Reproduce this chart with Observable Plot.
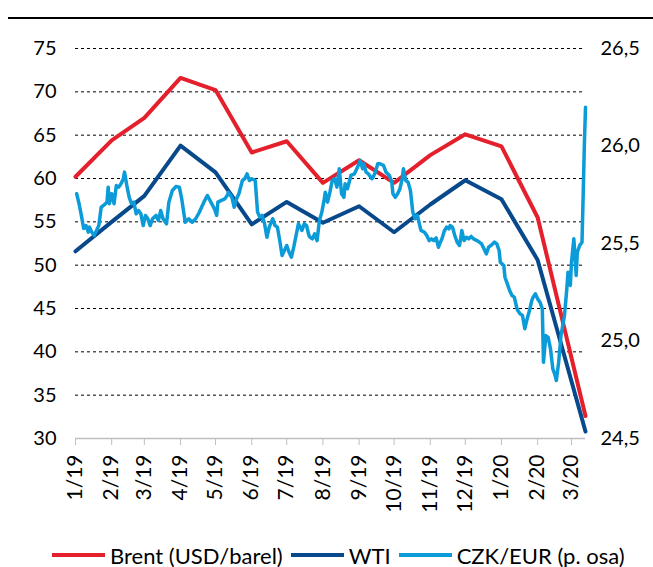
<!DOCTYPE html>
<html><head><meta charset="utf-8">
<script src="https://cdn.jsdelivr.net/npm/d3@7"></script>
<script src="https://cdn.jsdelivr.net/npm/@observablehq/plot@0.6"></script>
<style>
html,body{margin:0;padding:0;background:#fff;}
body{width:653px;height:567px;position:relative;overflow:hidden;font-family:Lato,"Open Sans",sans-serif;}
#topline{position:absolute;left:8px;right:0;top:17px;border-top:2px solid #000;}
#chart{position:absolute;left:0;top:20px;}
#legend{position:absolute;left:52px;top:543px;height:24px;display:flex;align-items:center;font-size:22px;color:#000;white-space:nowrap;}
#legend .sw{display:inline-block;width:53px;height:4px;margin-right:5px;}
#legend .it{display:flex;align-items:center;margin-right:8px;}
</style>
</head><body>
<div id="topline"></div>
<div id="chart"></div>
<div id="legend"></div>
<script>
const monthDates = ["2019-01-01","2019-02-01","2019-03-01","2019-04-01","2019-05-01","2019-06-01","2019-07-01","2019-08-01","2019-09-01","2019-10-01","2019-11-01","2019-12-01","2020-01-01","2020-02-01","2020-03-13"];
const brent = [60.2,64.4,67.0,71.6,70.2,63.0,64.3,59.5,62.1,59.5,62.7,65.1,63.7,55.5,32.6];
const wti   = [51.6,55.0,58.0,63.8,60.7,54.7,57.3,54.9,56.8,53.8,57.0,59.8,57.6,50.6,30.8];

const czkDates = [
"2019-01-02","2019-01-04","2019-01-06","2019-01-08","2019-01-10","2019-01-12","2019-01-13","2019-01-15","2019-01-17","2019-01-19","2019-01-21","2019-01-23","2019-01-25","2019-01-28","2019-01-29","2019-01-30",
"2019-02-01","2019-02-03","2019-02-05","2019-02-07","2019-02-09","2019-02-11","2019-02-12","2019-02-14","2019-02-16","2019-02-18","2019-02-20","2019-02-22","2019-02-24","2019-02-26","2019-02-28",
"2019-03-02","2019-03-04","2019-03-06","2019-03-08","2019-03-11","2019-03-13","2019-03-15","2019-03-17","2019-03-20","2019-03-22","2019-03-25","2019-03-28","2019-03-31",
"2019-04-02","2019-04-05","2019-04-08","2019-04-11","2019-04-14","2019-04-17","2019-04-21","2019-04-24","2019-04-27","2019-04-30",
"2019-05-02","2019-05-03","2019-05-06","2019-05-09","2019-05-11","2019-05-12","2019-05-15","2019-05-17","2019-05-19","2019-05-21","2019-05-24","2019-05-26","2019-05-28","2019-05-30",
"2019-06-01","2019-06-04","2019-06-06","2019-06-08","2019-06-10","2019-06-12","2019-06-14","2019-06-16","2019-06-19","2019-06-21","2019-06-23","2019-06-25","2019-06-27","2019-06-29",
"2019-07-01","2019-07-03","2019-07-05","2019-07-07","2019-07-09","2019-07-11","2019-07-14","2019-07-16","2019-07-18","2019-07-20","2019-07-21","2019-07-23","2019-07-25","2019-07-27","2019-07-29","2019-07-31",
"2019-08-02","2019-08-03","2019-08-05","2019-08-07","2019-08-09","2019-08-11","2019-08-13","2019-08-15","2019-08-17","2019-08-19","2019-08-20","2019-08-22","2019-08-25","2019-08-28","2019-08-30",
"2019-09-01","2019-09-02","2019-09-04","2019-09-05","2019-09-07","2019-09-09","2019-09-12","2019-09-13","2019-09-15","2019-09-17","2019-09-19","2019-09-22","2019-09-24","2019-09-27","2019-09-29","2019-09-30",
"2019-10-02","2019-10-04","2019-10-06","2019-10-08","2019-10-09","2019-10-11","2019-10-13","2019-10-15","2019-10-17","2019-10-19","2019-10-21","2019-10-23","2019-10-24","2019-10-27","2019-10-29","2019-10-31",
"2019-11-02","2019-11-04","2019-11-06","2019-11-08","2019-11-09","2019-11-11","2019-11-13","2019-11-15","2019-11-17","2019-11-18","2019-11-20","2019-11-22","2019-11-24","2019-11-26","2019-11-27","2019-11-28","2019-11-30",
"2019-12-02","2019-12-04","2019-12-06","2019-12-08","2019-12-11","2019-12-13","2019-12-15","2019-12-17","2019-12-19","2019-12-21","2019-12-23","2019-12-26","2019-12-28","2019-12-30","2019-12-31",
"2020-01-03","2020-01-04","2020-01-06","2020-01-08","2020-01-10","2020-01-12","2020-01-14","2020-01-15","2020-01-17","2020-01-19","2020-01-21","2020-01-23","2020-01-25","2020-01-27","2020-01-28","2020-01-30",
"2020-02-01","2020-02-03","2020-02-05","2020-02-06","2020-02-08","2020-02-10","2020-02-12","2020-02-14","2020-02-16","2020-02-17","2020-02-19","2020-02-21","2020-02-24","2020-02-26","2020-02-27","2020-02-29",
"2020-03-01","2020-03-03","2020-03-04","2020-03-05","2020-03-06","2020-03-08","2020-03-10","2020-03-11","2020-03-12","2020-03-13"];
const czk = [
25.755,25.705,25.644,25.577,25.592,25.558,25.584,25.558,25.541,25.567,25.592,25.686,25.695,25.712,25.789,25.704,
25.755,25.704,25.797,25.789,25.806,25.832,25.866,25.797,25.737,25.704,25.712,25.652,25.669,25.652,25.592,
25.644,25.627,25.592,25.627,25.644,25.618,25.669,25.627,25.601,25.712,25.772,25.792,25.789,
25.729,25.609,25.627,25.609,25.627,25.659,25.712,25.746,25.712,25.678,
25.644,25.712,25.721,25.729,25.746,25.763,25.737,25.686,25.729,25.755,25.823,25.832,25.857,25.823,
25.832,25.823,25.661,25.635,25.644,25.601,25.532,25.584,25.627,25.592,25.584,25.515,25.438,25.464,
25.490,25.455,25.430,25.481,25.541,25.601,25.567,25.601,25.592,25.541,25.532,25.524,25.550,25.515,25.618,25.659,
25.721,25.763,25.712,25.763,25.823,25.832,25.789,25.883,25.755,25.737,25.806,25.781,25.849,25.857,25.883,
25.909,25.926,25.883,25.909,25.866,25.857,25.832,25.840,25.866,25.909,25.909,25.900,25.866,25.849,25.814,25.755,
25.737,25.755,25.781,25.832,25.883,25.823,25.814,25.772,25.661,25.627,25.644,25.592,25.567,25.558,25.541,25.515,
25.524,25.515,25.529,25.481,25.498,25.524,25.564,25.584,25.575,25.592,25.584,25.541,25.507,25.490,25.524,25.567,25.515,
25.532,25.524,25.536,25.524,25.515,25.507,25.498,25.473,25.447,25.481,25.490,25.507,25.498,25.464,25.404,
25.387,25.327,25.293,25.259,25.233,25.225,25.173,25.156,25.139,25.131,25.063,25.114,25.156,25.208,25.223,25.242,
25.216,25.199,25.165,24.891,25.028,25.019,24.960,24.857,24.823,24.797,24.891,25.028,25.131,25.268,25.353,25.285,
25.404,25.524,25.438,25.336,25.455,25.490,25.507,25.746,26.003,26.199];

const xTickDates = ["2019-01-01","2019-02-01","2019-03-01","2019-04-01","2019-05-01","2019-06-01","2019-07-01","2019-08-01","2019-09-01","2019-10-01","2019-11-01","2019-12-01","2020-01-01","2020-02-01","2020-03-01"];
const xTickLabels = ["1/19","2/19","3/19","4/19","5/19","6/19","7/19","8/19","9/19","10/19","11/19","12/19","1/20","2/20","3/20"];
const leftTicks = [30,35,40,45,50,55,60,65,70,75];
const rightTicks = [24.5,25.0,25.5,26.0,26.5];
const rightTickLabels = ["24,5","25,0","25,5","26,0","26,5"];
const seriesNames = ["Brent (USD/barel)","WTI","CZK/EUR (p. osa)"];
const seriesColors = ["#e3202b","#07498b","#0a9bd8"];

// map right-axis (CZK/EUR) values onto the left scale
const leftDomain = [30,75], rightDomain = [24.5,26.5];
const toLeft = v => leftDomain[0] + (v - rightDomain[0]) * (leftDomain[1]-leftDomain[0]) / (rightDomain[1]-rightDomain[0]);

const oil = monthDates.map((d,i) => ({date:new Date(d), brent:brent[i], wti:wti[i]}));
const fx = czkDates.map((d,i) => ({date:new Date(d), v:toLeft(czk[i])}));
const tickDates = xTickDates.map(d => new Date(d));
const labelMap = new Map(tickDates.map((d,i)=>[+d, xTickLabels[i]]));
const rightMap = new Map(rightTicks.map((v,i)=>[toLeft(v), rightTickLabels[i]]));

const font = "Lato, 'Open Sans', sans-serif";
const chart = Plot.plot({
  width: 653, height: 520,
  marginLeft: 75, marginRight: 68, marginTop: 28, marginBottom: 102,
  x: {type: "utc", domain: [new Date("2019-01-01"), new Date("2020-03-13")]},
  y: {domain: leftDomain},
  style: {fontFamily: font, fontSize: "21px", color: "#000", background: "#fff", overflow: "visible"},
  marks: [
    Plot.ruleY(leftTicks.filter(v => v > leftDomain[0]), {stroke: "#000", strokeWidth: 1, strokeDasharray: "3,3"}),
    Plot.ruleY([leftDomain[0]], {stroke: "#bfbfbf", strokeWidth: 1.5}),
    Plot.axisX({ticks: tickDates, tickFormat: d => labelMap.get(+d), tickRotate: -90, tickSize: 7, tickPadding: 9,
                stroke: "#bfbfbf", fill: "#000", fontSize: 21, label: null}),
    Plot.axisY({anchor: "left", ticks: leftTicks, tickSize: 0, tickPadding: 19, fontSize: 20, label: null}),
    Plot.axisY({anchor: "right", ticks: rightTicks.map(toLeft), tickFormat: v => rightMap.get(v), tickSize: 0, tickPadding: 15, fontSize: 20, label: null}),
    Plot.line(oil, {x: "date", y: "brent", stroke: seriesColors[0], strokeWidth: 4, strokeLinejoin: "round"}),
    Plot.line(oil, {x: "date", y: "wti", stroke: seriesColors[1], strokeWidth: 4, strokeLinejoin: "round"}),
    Plot.line(fx, {x: "date", y: "v", stroke: seriesColors[2], strokeWidth: 3.5, strokeLinejoin: "round"})
  ]
});
document.getElementById("chart").appendChild(chart);

const legend = document.getElementById("legend");
seriesNames.forEach((n,i) => {
  const it = document.createElement("span"); it.className = "it";
  const sw = document.createElement("span"); sw.className = "sw"; sw.style.background = seriesColors[i];
  it.appendChild(sw); it.appendChild(document.createTextNode(n));
  legend.appendChild(it);
});
</script>
</body></html>
